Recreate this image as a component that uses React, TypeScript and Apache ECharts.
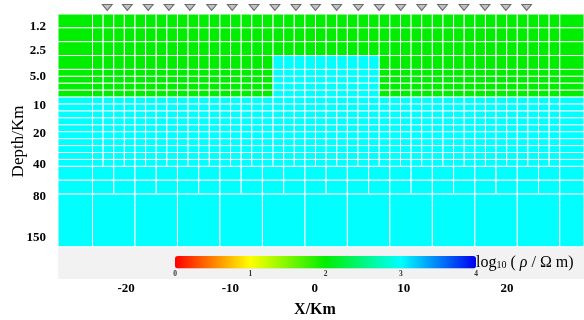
import React, { useEffect, useRef } from 'react';
import * as echarts from 'echarts';

// ---- mesh model (x, y in mesh-index units) ----
const rowEdges = [0, 2, 4, 6, 8, 9, 10, 11, 12, 13, 14, 15, 16, 17, 18, 19, 20, 21, 22, 24, 26, 33.6];
const rowCellWidths = [1, 1, 1, 1, 1, 1, 1, 1, 1, 1, 1, 1, 1, 1, 1, 1, 1, 1, 2, 2, 4];
const rowValues = [2, 2, 2, 2, 2, 2, 2, 2, 3, 3, 3, 3, 3, 3, 3, 3, 3, 3, 3, 3, 3];
const meshCore = [0, 44];
const meshPadLeft = [-3.25, 0];
const meshPadRight = [44, 47.25];
const anomalyX = [17, 27];
const anomalyY = [6, 12];
const anomalyValue = 3;

// ---- stations ----
const stationX = [1.39, 3.28, 5.25, 7.2, 9.18, 11.22, 13.16, 15.21, 17.18, 19.16, 21.0, 22.99, 25.03, 27.0, 29.02, 31.0, 32.96, 34.98, 36.96, 38.93, 40.88];
const stationDepth = -0.94;

// ---- axis ticks ----
const xTickPos = [3.17, 12.99, 20.93, 29.3, 39.03];
const xTickLabels = ['-20', '-10', '0', '10', '20'];
const yTickPos = [1.59, 5.1, 8.95, 13.07, 17.08, 21.56, 26.23, 32.15];
const yTickLabels = ['1.2', '2.5', '5.0', '10', '20', '40', '80', '150'];
const colorTicks = [0, 1, 2, 3, 4];
const colorStops = ['#ff0000', '#ffff00', '#00ee00', '#00ffff', '#0000f0'];

const X_MIN = -3.25;
const X_MAX = 46.28;
const Y_MAX = 38.26;

const FONT = "'Liberation Serif', 'Times New Roman', serif";

function buildCells() {
  const cells: number[][] = [];
  for (let r = 0; r < rowCellWidths.length; r++) {
    const y0 = rowEdges[r];
    const y1 = rowEdges[r + 1];
    const w = rowCellWidths[r];
    const edges: number[] = [meshPadLeft[0]];
    for (let x = meshCore[0]; x <= meshCore[1] + 1e-9; x += w) edges.push(x);
    edges.push(meshPadRight[1]);
    for (let c = 0; c < edges.length - 1; c++) {
      const x0 = edges[c];
      const x1 = edges[c + 1];
      const inAnom = x0 >= anomalyX[0] && x1 <= anomalyX[1] && y0 >= anomalyY[0] && y1 <= anomalyY[1];
      cells.push([x0, x1, y0, y1, inAnom ? anomalyValue : rowValues[r]]);
    }
  }
  return cells;
}

function pick(pos: number[], labels: string[], v: number) {
  const i = pos.findIndex((p) => Math.abs(p - v) < 1e-6);
  return i >= 0 ? labels[i] : '';
}

export default function App() {
  const ref = useRef<HTMLDivElement>(null);
  useEffect(() => {
    if (!ref.current) return;
    const chart = echarts.init(ref.current, undefined, { renderer: 'svg' });
    const cells = buildCells();
    chart.setOption({
      animation: false,
      grid: [
        { left: 58, right: 0, top: 14, bottom: 41, show: true, backgroundColor: '#f2f2f2', borderWidth: 0, outerBoundsMode: 'none', containLabel: false },
        { left: 175, width: 301, top: 256, height: 12.6, show: false, outerBoundsMode: 'none', containLabel: false },
      ],
      xAxis: [
        {
          type: 'value', gridIndex: 0, min: X_MIN, max: X_MAX,
          axisLine: { show: false }, axisTick: { show: false }, splitLine: { show: false },
          axisLabel: {
            customValues: xTickPos,
            formatter: (v: number) => pick(xTickPos, xTickLabels, v),
            fontFamily: FONT, fontWeight: 'bold', fontSize: 13, color: '#000', margin: 2,
          },
          name: 'X/Km', nameLocation: 'middle', nameGap: 21, nameMoveOverlap: false,
          nameTextStyle: { fontFamily: FONT, fontWeight: 'bold', fontSize: 16, color: '#000', padding: [0, 12, 0, 0] },
        },
        {
          type: 'value', gridIndex: 1, min: 0, max: 4, interval: 1,
          axisLine: { show: false }, axisTick: { show: false }, splitLine: { show: false },
          axisLabel: {
            customValues: colorTicks,
            fontFamily: FONT, fontWeight: 'bold', fontSize: 7.5, color: '#333', margin: 1,
          },
        },
      ],
      yAxis: [
        {
          type: 'value', gridIndex: 0, min: 0, max: Y_MAX, inverse: true,
          axisLine: { show: false }, axisTick: { show: false }, splitLine: { show: false },
          axisLabel: {
            customValues: yTickPos,
            formatter: (v: number) => pick(yTickPos, yTickLabels, v),
            fontFamily: FONT, fontWeight: 'bold', fontSize: 13, color: '#000', margin: 12,
          },
          name: 'Depth/Km', nameLocation: 'middle', nameGap: 32, nameRotate: 90, nameMoveOverlap: false,
          nameTextStyle: { fontFamily: FONT, fontSize: 17, color: '#000', padding: [0, 0, 0, 10] },
        },
        {
          type: 'value', gridIndex: 1, min: 0, max: 1, show: false,
        },
      ],
      visualMap: {
        type: 'continuous', min: 0, max: 4, dimension: 4, seriesIndex: 0,
        orient: 'horizontal', left: 175, top: 256, itemWidth: 12.6, itemHeight: 301,
        calculable: false, padding: 0, hoverLink: false,
        inRange: { color: colorStops },
      },
      graphic: [
        {
          type: 'text', left: 476, top: 253,
          style: {
            text: '{a|log}{b|10}{a| ( }{c|ρ}{a| / Ω m)}',
            rich: {
              a: { fontFamily: FONT, fontSize: 16, fill: '#000', lineHeight: 17 },
              c: { fontFamily: FONT, fontSize: 16, fontStyle: 'italic', fill: '#000', lineHeight: 17 },
              b: { fontFamily: FONT, fontSize: 10, fill: '#000', lineHeight: 17, verticalAlign: 'bottom' },
            },
          },
        },
      ],
      series: [
        {
          type: 'custom',
          xAxisIndex: 0, yAxisIndex: 0,
          dimensions: ['x0', 'x1', 'y0', 'y1', 'logRho'],
          encode: { x: [0, 1], y: [2, 3] },
          data: cells,
          renderItem: (params: any, api: any) => {
            const a = api.coord([api.value(0), api.value(2)]);
            const b = api.coord([api.value(1), api.value(3)]);
            const shape = echarts.graphic.clipRectByRect(
              { x: a[0], y: a[1], width: b[0] - a[0], height: b[1] - a[1] },
              { x: params.coordSys.x, y: params.coordSys.y, width: params.coordSys.width, height: params.coordSys.height }
            );
            if (!shape) return null;
            return {
              type: 'rect',
              shape,
              style: { fill: api.visual('color'), stroke: '#ffffff', lineWidth: 1 },
            };
          },
        },
        {
          type: 'scatter',
          xAxisIndex: 0, yAxisIndex: 0,
          data: stationX.map((x) => [x, stationDepth]),
          symbol: 'triangle', symbolRotate: 180, symbolSize: [10, 6],
          clip: false, z: 5,
          itemStyle: { color: '#b4b4b4', borderColor: '#505050', borderWidth: 1 },
        },
      ],
    });
    return () => chart.dispose();
  }, []);
  return <div ref={ref} style={{ position: 'fixed', left: 0, top: 0, width: 584, height: 320 }} />;
}
